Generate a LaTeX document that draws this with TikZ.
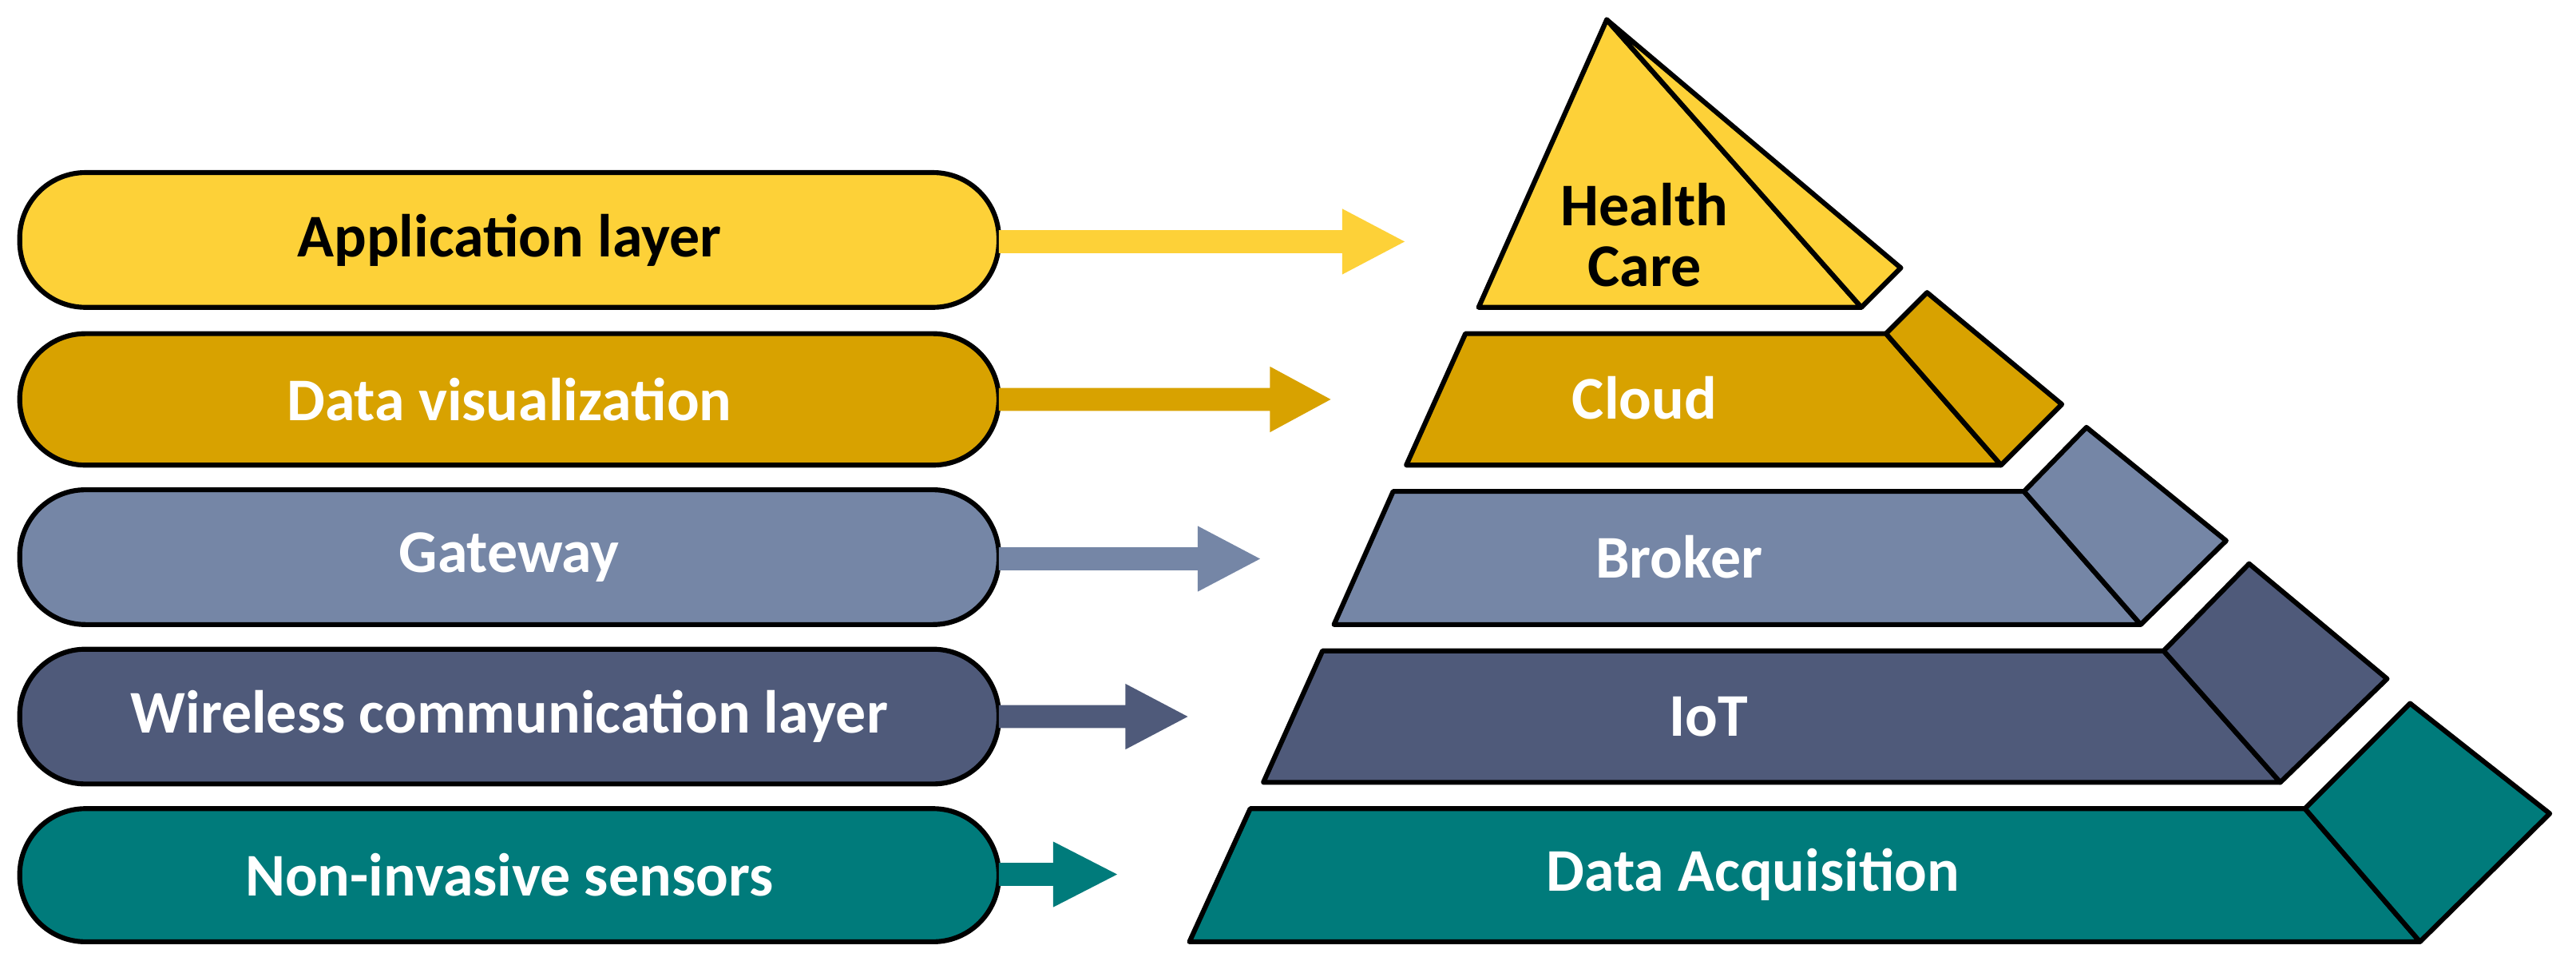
\documentclass[tikz,border=0pt]{standalone}
\usepackage{fontspec}
\setmainfont{Carlito}
\begin{document}
\begin{tikzpicture}[x=0.02cm,y=-0.02cm,
  lw/.style={line width=1.7pt,line join=round},
  pill/.style={lw,draw=black,rounded corners=0.8cm},
  lbl/.style={font=\bfseries\fontsize{21}{25}\selectfont},
  barrow/.style={draw=none}]
\definecolor{cA}{RGB}{253,209,56}
\definecolor{cB}{RGB}{216,162,0}
\definecolor{cC}{RGB}{117,134,166}
\definecolor{cD}{RGB}{79,90,122}
\definecolor{cE}{RGB}{0,123,123}
\useasboundingbox (0,0) rectangle (1568,592);
% pills
\foreach \c/\t/\b/\tc/\txt/\n in {cA/105/187/black/Application layer/pa,cB/203/283/white/Data visualization/pb,cC/298/380/white/Gateway/pc,cD/395/477/white/Wireless communication layer/pd,cE/492/573/white/Non-invasive sensors/pe}{
  \draw[pill,fill=\c] (12,\t) rectangle (608,\b);
  \node[lbl,text=\tc] (\n) at (310,{(\t+\b)/2}) {\txt};
}
% block arrows
\foreach \c/\y/\s/\tp/\n in {cA/147/817/855/aa,cB/243/773/810/ab,cC/340/729/767/ac,cD/436/685/723/ad,cE/532/641/680/ae}{
  \fill[\c] (608,\y-7) -- (\s,\y-7) -- (\s,\y-20) -- (\tp,\y) -- (\s,\y+20) -- (\s,\y+7) -- (608,\y+7) -- cycle;
  \coordinate (\n) at (\tp,\y);
}
% pyramid
\draw[lw,fill=cA] (900,187) -- (978,12) -- (1133,187) -- cycle;
\draw[lw,fill=cA] (978,12) -- (1157,163) -- (1133,187) -- cycle;
\node[lbl,align=center,text=black] (hc) at (1001,143) {Health\\[-4pt]Care};
\draw[lw,fill=cB] (856,283) -- (892,203) -- (1148,203) -- (1218,283) -- cycle;
\draw[lw,fill=cB] (1148,203) -- (1173,178) -- (1255,246) -- (1218,283) -- cycle;
\node[lbl,text=white] (cl) at (1001,242) {Cloud};
\draw[lw,fill=cC] (812,380) -- (848,299) -- (1232,299) -- (1303,380) -- cycle;
\draw[lw,fill=cC] (1232,299) -- (1270,260) -- (1355,329) -- (1303,380) -- cycle;
\node[lbl,text=white] (br) at (1022,339) {Broker};
\draw[lw,fill=cD] (769,476) -- (805,396) -- (1317,396) -- (1388,476) -- cycle;
\draw[lw,fill=cD] (1317,396) -- (1369,343) -- (1453,413) -- (1388,476) -- cycle;
\node[lbl,text=white] (io) at (1040,436) {IoT};
\draw[lw,fill=cE] (724,573) -- (761,492) -- (1403,492) -- (1473,573) -- cycle;
\draw[lw,fill=cE] (1403,492) -- (1467,428) -- (1552,495) -- (1473,573) -- cycle;
\node[lbl,text=white] (da) at (1067,532) {Data Acquisition};
\end{tikzpicture}
\end{document}
